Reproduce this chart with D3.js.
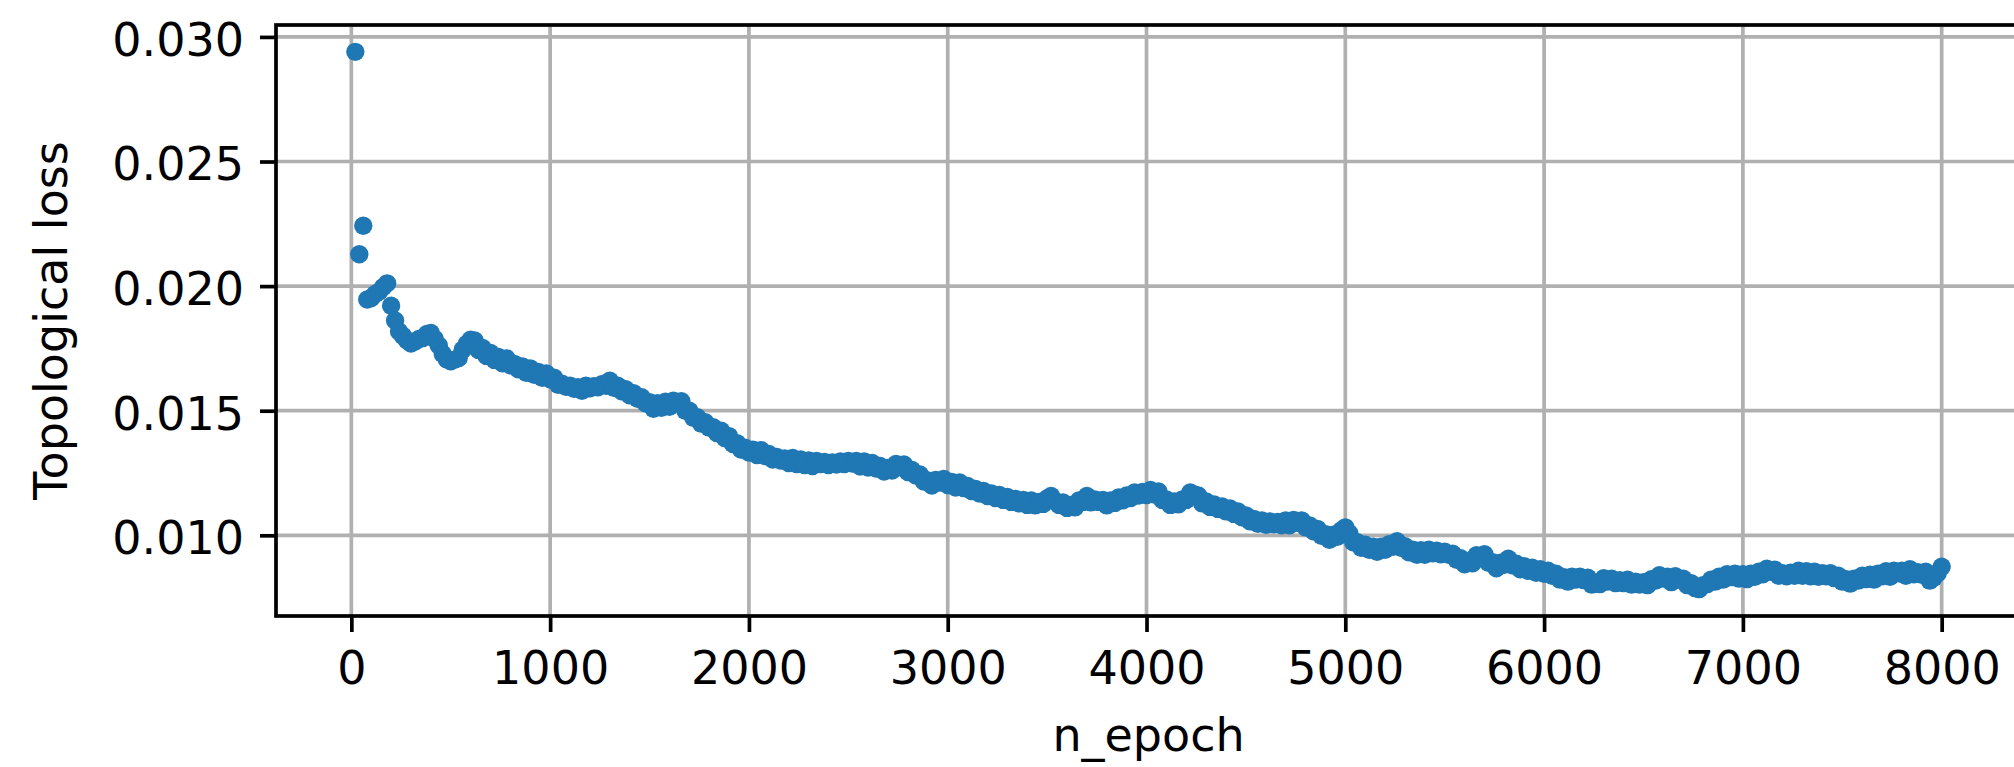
<!DOCTYPE html>
<html>
<head>
<meta charset="utf-8">
<script src="https://cdn.jsdelivr.net/npm/d3@7"></script>
<style>
  html, body { margin: 0; padding: 0; background: #ffffff; }
  svg { display: block; }
  text { font-family: "DejaVu Sans", sans-serif; fill: #000; }
</style>
</head>
<body>
<svg id="chart" width="2014" height="767"></svg>
<script>
// Topological loss recorded every 20 epochs (first record at epoch 20).
const epochStep = 20;
const topoLoss = [
  0.02940, 0.02128, 0.02242, 0.01946, 0.01952, 0.01968, 0.01978, 0.01996, 0.02011, 0.01921,
  0.01862, 0.01818, 0.01800, 0.01782, 0.01770, 0.01778, 0.01788, 0.01792, 0.01808, 0.01812,
  0.01788, 0.01762, 0.01728, 0.01706, 0.01698, 0.01705, 0.01712, 0.01745, 0.01768, 0.01785,
  0.01782, 0.01744, 0.01752, 0.01720, 0.01732, 0.01704, 0.01716, 0.01690, 0.01710, 0.01682,
  0.01688, 0.01666, 0.01678, 0.01652, 0.01670, 0.01644, 0.01656, 0.01632, 0.01650, 0.01626,
  0.01632, 0.01604, 0.01608, 0.01596, 0.01600, 0.01588, 0.01594, 0.01580, 0.01600, 0.01590,
  0.01598, 0.01594, 0.01606, 0.01600, 0.01620, 0.01592, 0.01600, 0.01578, 0.01586, 0.01562,
  0.01570, 0.01548, 0.01554, 0.01530, 0.01534, 0.01508, 0.01530, 0.01512, 0.01536, 0.01516,
  0.01540, 0.01530, 0.01538, 0.01500, 0.01500, 0.01472, 0.01474, 0.01448, 0.01454, 0.01432,
  0.01434, 0.01410, 0.01420, 0.01390, 0.01398, 0.01366, 0.01370, 0.01344, 0.01352, 0.01332,
  0.01344, 0.01322, 0.01342, 0.01318, 0.01326, 0.01304, 0.01314, 0.01300, 0.01308, 0.01290,
  0.01310, 0.01286, 0.01304, 0.01282, 0.01300, 0.01278, 0.01298, 0.01286, 0.01294, 0.01282,
  0.01292, 0.01284, 0.01296, 0.01286, 0.01298, 0.01288, 0.01298, 0.01276, 0.01296, 0.01272,
  0.01290, 0.01268, 0.01278, 0.01256, 0.01270, 0.01260, 0.01286, 0.01274, 0.01284, 0.01254,
  0.01262, 0.01240, 0.01244, 0.01216, 0.01220, 0.01200, 0.01222, 0.01212, 0.01226, 0.01202,
  0.01214, 0.01192, 0.01212, 0.01190, 0.01198, 0.01178, 0.01186, 0.01168, 0.01178, 0.01158,
  0.01168, 0.01150, 0.01162, 0.01142, 0.01154, 0.01134, 0.01146, 0.01128, 0.01142, 0.01122,
  0.01140, 0.01120, 0.01134, 0.01126, 0.01148, 0.01158, 0.01138, 0.01122, 0.01132, 0.01110,
  0.01122, 0.01112, 0.01140, 0.01134, 0.01158, 0.01132, 0.01144, 0.01134, 0.01142, 0.01120,
  0.01140, 0.01130, 0.01152, 0.01140, 0.01160, 0.01150, 0.01172, 0.01160, 0.01174, 0.01162,
  0.01182, 0.01164, 0.01176, 0.01142, 0.01144, 0.01122, 0.01136, 0.01124, 0.01144, 0.01142,
  0.01172, 0.01164, 0.01160, 0.01128, 0.01136, 0.01114, 0.01124, 0.01106, 0.01116, 0.01096,
  0.01108, 0.01086, 0.01096, 0.01072, 0.01080, 0.01056, 0.01066, 0.01046, 0.01060, 0.01042,
  0.01056, 0.01044, 0.01054, 0.01040, 0.01060, 0.01040, 0.01062, 0.01050, 0.01060, 0.01032,
  0.01040, 0.01016, 0.01026, 0.00998, 0.01004, 0.00982, 0.01002, 0.00994, 0.01020, 0.01032,
  0.01008, 0.00972, 0.00972, 0.00950, 0.00962, 0.00942, 0.00954, 0.00934, 0.00954, 0.00942,
  0.00964, 0.00954, 0.00976, 0.00950, 0.00956, 0.00932, 0.00942, 0.00922, 0.00940, 0.00922,
  0.00942, 0.00928, 0.00938, 0.00924, 0.00934, 0.00922, 0.00926, 0.00902, 0.00908, 0.00884,
  0.00896, 0.00888, 0.00920, 0.00916, 0.00924, 0.00890, 0.00892, 0.00868, 0.00890, 0.00882,
  0.00906, 0.00880, 0.00886, 0.00864, 0.00876, 0.00858, 0.00870, 0.00850, 0.00864, 0.00846,
  0.00858, 0.00838, 0.00846, 0.00822, 0.00832, 0.00814, 0.00834, 0.00822, 0.00834, 0.00820,
  0.00830, 0.00802, 0.00808, 0.00804, 0.00828, 0.00814, 0.00826, 0.00808, 0.00820, 0.00808,
  0.00822, 0.00802, 0.00814, 0.00802, 0.00812, 0.00800, 0.00824, 0.00818, 0.00840, 0.00826,
  0.00834, 0.00812, 0.00836, 0.00822, 0.00826, 0.00800, 0.00808, 0.00788, 0.00784, 0.00800,
  0.00804, 0.00822, 0.00814, 0.00834, 0.00822, 0.00844, 0.00832, 0.00846, 0.00826, 0.00844,
  0.00824, 0.00846, 0.00834, 0.00854, 0.00844, 0.00866, 0.00854, 0.00862, 0.00838, 0.00848,
  0.00836, 0.00850, 0.00838, 0.00858, 0.00838, 0.00856, 0.00836, 0.00854, 0.00834, 0.00848,
  0.00836, 0.00848, 0.00828, 0.00838, 0.00814, 0.00824, 0.00806, 0.00826, 0.00818, 0.00838,
  0.00824, 0.00842, 0.00822, 0.00846, 0.00836, 0.00856, 0.00834, 0.00858, 0.00848, 0.00858,
  0.00838, 0.00864, 0.00844, 0.00852, 0.00842, 0.00854, 0.00818, 0.00830, 0.00848, 0.00874
];
const epochs = topoLoss.map((_, i) => (i + 1) * epochStep);

const xTicks = [0, 1000, 2000, 3000, 4000, 5000, 6000, 7000, 8000];
const yTicks = [0.010, 0.015, 0.020, 0.025, 0.030];
const xLabel = "n_epoch";
const yLabel = "Topological loss";

// Axes box in page pixels
const box = { left: 276, top: 25, right: 2021, bottom: 616 };
const fontPx = 46;
const lw = 3.7;          // spine / tick / grid line width
const tickLen = 16;
const dotColor = "#1f77b4";
const dotR = 9.2;

// Data limits padded by 5% on each side
function padded(ext) {
  const m = (ext[1] - ext[0]) * 0.05;
  return [ext[0] - m, ext[1] + m];
}
const x = d3.scaleLinear().domain(padded(d3.extent(epochs))).range([box.left, box.right]);
const y = d3.scaleLinear().domain(padded(d3.extent(topoLoss))).range([box.bottom, box.top]);

const svg = d3.select("#chart");
const W = box.right - box.left, H = box.bottom - box.top;

// Grid lines
const grid = svg.append("g").attr("class", "grid");
grid.selectAll("line.gx").data(xTicks).join("line")
  .attr("x1", d => x(d)).attr("x2", d => x(d))
  .attr("y1", box.top).attr("y2", box.bottom)
  .attr("stroke", "#b0b0b0").attr("stroke-width", lw);
grid.selectAll("line.gy").data(yTicks).join("line")
  .attr("x1", box.left).attr("x2", box.right)
  .attr("y1", d => y(d)).attr("y2", d => y(d))
  .attr("stroke", "#b0b0b0").attr("stroke-width", lw);

// Points
svg.append("defs").append("clipPath").attr("id", "plotArea")
  .append("rect").attr("x", box.left).attr("y", box.top).attr("width", W).attr("height", H);
svg.append("g").attr("clip-path", "url(#plotArea)")
  .selectAll("circle").data(epochs).join("circle")
  .attr("cx", d => x(d))
  .attr("cy", (d, i) => y(topoLoss[i]))
  .attr("r", dotR)
  .attr("fill", dotColor);

// Axes with ticks and labels
const xAxis = d3.axisBottom(x).tickValues(xTicks).tickFormat(d3.format("d"))
  .tickSizeInner(tickLen).tickSizeOuter(0).tickPadding(19);
const yAxis = d3.axisLeft(y).tickValues(yTicks).tickFormat(d3.format(".3f"))
  .tickSizeInner(tickLen).tickSizeOuter(0).tickPadding(16);

const gx = svg.append("g").attr("transform", `translate(0,${box.bottom})`).call(xAxis);
const gy = svg.append("g").attr("transform", `translate(${box.left},0)`).call(yAxis);
[gx, gy].forEach(g => {
  g.select(".domain").remove();
  g.selectAll(".tick line").attr("stroke", "#000").attr("stroke-width", lw);
  g.selectAll(".tick text")
    .attr("fill", "#000")
    .style("font-family", "'DejaVu Sans', sans-serif")
    .style("font-size", fontPx + "px");
});
gy.selectAll(".tick text").attr("dy", "0.4em");

// Spines
svg.append("rect")
  .attr("x", box.left).attr("y", box.top).attr("width", W).attr("height", H)
  .attr("fill", "none").attr("stroke", "#000").attr("stroke-width", lw);

// Axis titles
svg.append("text")
  .attr("x", (box.left + box.right) / 2).attr("y", 751)
  .attr("text-anchor", "middle")
  .style("font-size", fontPx + "px")
  .text(xLabel);
svg.append("text")
  .attr("transform", `translate(67,${(box.top + box.bottom) / 2}) rotate(-90)`)
  .attr("text-anchor", "middle")
  .style("font-size", fontPx + "px")
  .text(yLabel);
</script>
</body>
</html>
